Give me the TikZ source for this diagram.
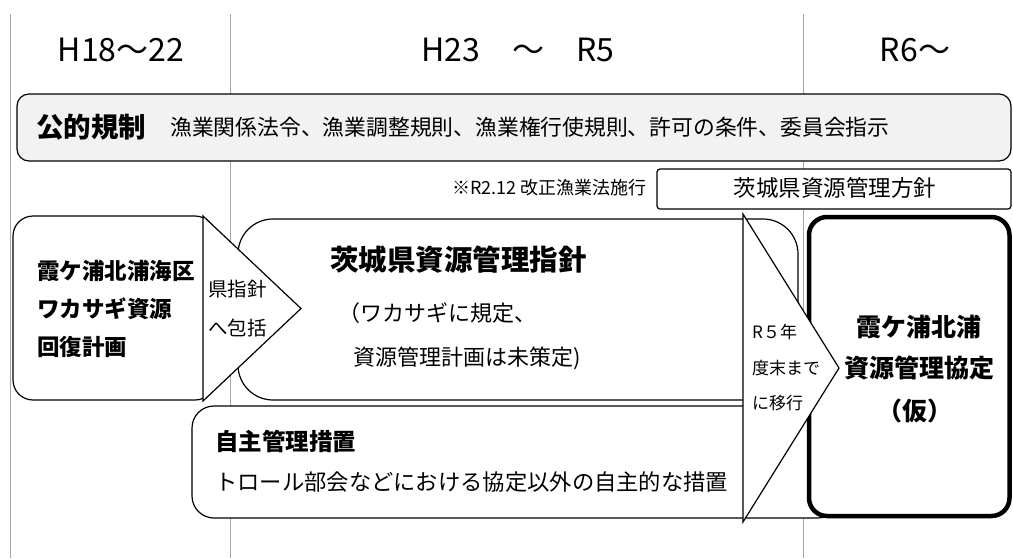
\documentclass[tikz,border=0pt]{standalone}
\usepackage{fontspec}
\setmainfont{Noto Sans CJK JP}
\definecolor{gridgray}{RGB}{166,166,166}
\definecolor{kgray}{RGB}{242,242,242}
\newcommand{\fs}[1]{\fontsize{#1}{#1}\selectfont}
\begin{document}
\begin{tikzpicture}[x=1pt,y=-1pt,
  gridline/.style={draw=gridgray, line width=0.9pt},
  box/.style={draw=black, line width=1.2pt, fill=white},
  txt/.style={inner sep=0pt, anchor=west, text=black},
  ctxt/.style={inner sep=0pt, anchor=center, text=black},
  hdr/.style={inner sep=0pt, anchor=center, text=black, font=\fs{32}}
]
\useasboundingbox (0,0) rectangle (1013,558);
\fill[white] (0,0) rectangle (1013,558);
% period separators
\draw[gridline] (10.5,14) -- (10.5,558);
\draw[gridline] (230.5,14) -- (230.5,558);
\draw[gridline] (803,14) -- (803,558);
% headers
\node[hdr] (h1) at (121,50) {H18～22};
\node[hdr] (h2) at (518,50) {H23　～　R5};
\node[hdr] (h3) at (915,50) {R6～};
% public regulation bar
\draw[box, fill=kgray, rounded corners=12pt] (17,94) rectangle (1011,161);
\node[txt, font=\bfseries\fs{27.5}] (kt) at (36,127) {公的規制};
\node[txt, font=\fs{21.8}] (kd) at (170,127) {漁業関係法令、漁業調整規則、漁業権行使規則、許可の条件、委員会指示};
% policy box
\draw[box, rounded corners=3pt] (657,169) rectangle (1011,209);
\node[txt, anchor=east, font=\fs{18}] (note) at (647,188) {※R2.12 改正漁業法施行};
\node[ctxt, font=\fs{22.5}] (hoshin) at (835,188) {茨城県資源管理方針};
% left plan box + arrow
\draw[box, rounded corners=20pt] (13,216) rectangle (215,400);
% main guideline box
\draw[box, rounded corners=35pt] (238,219) rectangle (798,400);
\draw[box, line join=miter] (203,216) -- (301,308.5) -- (203,401) -- cycle;
% voluntary measures box
\draw[box, rounded corners=22pt] (192,406) rectangle (840,518);
% agreement box
\draw[draw=black, line width=4.5pt, fill=white, rounded corners=18pt] (809,217) rectangle (1009.5,516);
% transition arrow
\draw[box, line join=miter] (743,214) -- (839,368) -- (743,522) -- cycle;
% texts
\node[txt, font=\bfseries\fs{22.5}] (l1) at (37,271) {霞ケ浦北浦海区};
\node[txt, font=\bfseries\fs{22.5}] (l2) at (37,309) {ワカサギ資源};
\node[txt, font=\bfseries\fs{22.5}] (l3) at (37,347) {回復計画};
\node[txt, font=\fs{19.5}] (a1) at (208,289) {県指針};
\node[txt, font=\fs{19.5}] (a2) at (208,328) {へ包括};
\node[txt, font=\bfseries\fs{28.5}] (m1) at (330,260) {茨城県資源管理指針};
\node[txt, font=\fs{22}] (m2) at (338,313) {（ワカサギに規定、};
\node[txt, font=\fs{22}] (m3) at (353,358) {資源管理計画は未策定)};
\node[txt, font=\fs{17}] (r1) at (752,332) {R５年};
\node[txt, font=\fs{17}] (r2) at (752,368) {度末まで};
\node[txt, font=\fs{17}] (r3) at (752,403) {に移行};
\node[ctxt, font=\bfseries\fs{25}] (k1) at (919,327) {霞ケ浦北浦};
\node[ctxt, font=\bfseries\fs{25}] (k2) at (919,368) {資源管理協定};
\node[ctxt, font=\bfseries\fs{25}] (k3) at (915,411) {（仮）};
\node[txt, font=\bfseries\fs{23.5}] (j1) at (215,441) {自主管理措置};
\node[txt, font=\fs{22.3}] (j2) at (215,482) {トロール部会などにおける協定以外の自主的な措置};
\end{tikzpicture}
\end{document}
